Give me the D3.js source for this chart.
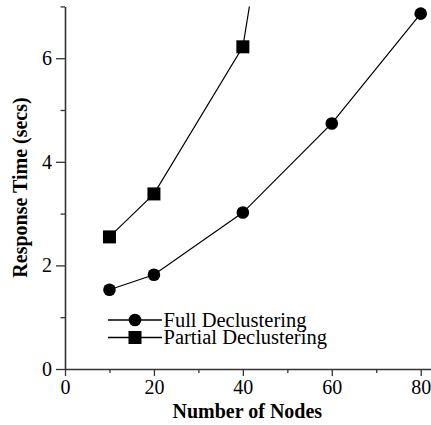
<!DOCTYPE html>
<html>
<head>
<meta charset="utf-8">
<script src="https://cdn.jsdelivr.net/npm/d3@7"></script>
<style>
    body { margin: 0; background: #fff; }
    svg { display: block; }
    text { font-family: "Liberation Serif", "Times New Roman", serif; fill: #000; }
    .axis path, .axis line { stroke: #333; }
    .axis text { font-size: 20px; }
    .axis-title { font-size: 20px; font-weight: bold; }
    .legend text { font-size: 20.5px; }
</style>
</head>
<body>
<div id="chart"></div>
<script>
// Data
const nodes = [10, 20, 40, 60, 80];
const fullDeclustering = [1.53, 1.82, 3.02, 4.74, 6.86];
const partialNodes = [10, 20, 40, 60];
const partialDeclustering = [2.55, 3.38, 6.22, 16.8];   // last point runs off the top
const xMajorTicks = [0, 20, 40, 60, 80];
const xMinorTicks = [10, 30, 50, 70];
const yMajorTicks = [0, 2, 4, 6];
const yMinorTicks = [1, 3, 5, 7];
const seriesNames = ['Full Declustering', 'Partial Declustering'];

const width = 431;
const height = 425;
const margin = { top: 6.4, right: 0.5, bottom: 56, left: 65 };
const boundedWidth = width - margin.left - margin.right;
const boundedHeight = height - margin.top - margin.bottom;

const xScale = d3.scaleLinear()
    .domain([0, 82.2])
    .range([0, boundedWidth]);

const yScale = d3.scaleLinear()
    .domain([0, 7])
    .range([boundedHeight, 0]);

const svg = d3.select('#chart')
    .append('svg')
    .attr('width', width)
    .attr('height', height);

const viz = svg.append('g')
    .attr('transform', `translate(${margin.left}, ${margin.top})`);

// Clip so the steep partial line stops at the top of the axis
svg.append('defs').append('clipPath')
    .attr('id', 'plot-clip')
    .append('rect')
    .attr('x', -10)
    .attr('y', 0)
    .attr('width', boundedWidth + 20)
    .attr('height', boundedHeight);

// Axes: major ticks with labels, minor ticks without
const xAxisGroup = viz.append('g')
    .attr('class', 'axis x-axis')
    .attr('transform', `translate(0, ${boundedHeight})`);

xAxisGroup.append('g')
    .call(d3.axisBottom(xScale).tickValues(xMinorTicks).tickSize(4).tickFormat(''))
    .call(g => g.select('.domain').remove());

xAxisGroup.append('g')
    .call(d3.axisBottom(xScale).tickValues(xMajorTicks).tickSize(7).tickSizeOuter(0).tickPadding(4).tickFormat(d3.format('d')))
    .call(g => g.select('.domain').attr('stroke-width', 1.6));

const yAxisGroup = viz.append('g')
    .attr('class', 'axis y-axis');

yAxisGroup.append('g')
    .call(d3.axisLeft(yScale).tickValues(yMinorTicks).tickSize(4.5).tickFormat(''))
    .call(g => g.select('.domain').remove());

yAxisGroup.append('g')
    .call(d3.axisLeft(yScale).tickValues(yMajorTicks).tickSize(9).tickSizeOuter(0).tickPadding(4).tickFormat(d3.format('d')))
    .call(g => g.select('.domain').attr('stroke-width', 1.6));

viz.selectAll('.axis .tick line').attr('stroke-width', 1.3);

// Axis titles
viz.append('text')
    .attr('class', 'axis-title')
    .attr('x', xScale(41))
    .attr('y', boundedHeight + 49)
    .attr('text-anchor', 'middle')
    .text('Number of Nodes');

viz.append('text')
    .attr('class', 'axis-title')
    .attr('transform', `translate(${27 - margin.left}, ${187.5 - margin.top}) rotate(-90)`)
    .attr('text-anchor', 'middle')
    .text('Response Time (secs)');

// Lines
const line = d3.line()
    .x(d => xScale(d[0]))
    .y(d => yScale(d[1]));

const fullData = nodes.map((n, i) => [n, fullDeclustering[i]]);
const partialData = partialNodes.map((n, i) => [n, partialDeclustering[i]]);

const plot = viz.append('g')
    .attr('clip-path', 'url(#plot-clip)');

plot.append('path')
    .datum(fullData)
    .attr('fill', 'none')
    .attr('stroke', '#000')
    .attr('stroke-width', 1.2)
    .attr('d', line);

plot.append('path')
    .datum(partialData)
    .attr('fill', 'none')
    .attr('stroke', '#000')
    .attr('stroke-width', 1.2)
    .attr('d', line);

const markerSize = 13;

plot.selectAll('circle.point')
    .data(fullData)
    .join('circle')
    .attr('class', 'point')
    .attr('cx', d => xScale(d[0]))
    .attr('cy', d => yScale(d[1]))
    .attr('r', 6.3)
    .attr('fill', '#000');

plot.selectAll('rect.point')
    .data(partialData)
    .join('rect')
    .attr('class', 'point')
    .attr('x', d => xScale(d[0]) - markerSize / 2)
    .attr('y', d => yScale(d[1]) - markerSize / 2)
    .attr('width', markerSize)
    .attr('height', markerSize)
    .attr('fill', '#000');

// Legend
const legend = svg.append('g')
    .attr('class', 'legend')
    .attr('transform', 'translate(108, 320)');

const legendRows = legend.selectAll('g')
    .data(seriesNames)
    .join('g')
    .attr('transform', (d, i) => `translate(0, ${i * 17.5})`);

legendRows.append('line')
    .attr('x1', 0)
    .attr('x2', 54)
    .attr('stroke', '#000')
    .attr('stroke-width', 1.3);

legendRows.filter((d, i) => i === 0)
    .append('circle')
    .attr('cx', 27)
    .attr('r', 6.3)
    .attr('fill', '#000');

legendRows.filter((d, i) => i === 1)
    .append('rect')
    .attr('x', 27 - markerSize / 2)
    .attr('y', -markerSize / 2)
    .attr('width', markerSize)
    .attr('height', markerSize)
    .attr('fill', '#000');

legendRows.append('text')
    .attr('x', 55.5)
    .attr('dy', '0.34em')
    .text(d => d);
</script>
</body>
</html>
